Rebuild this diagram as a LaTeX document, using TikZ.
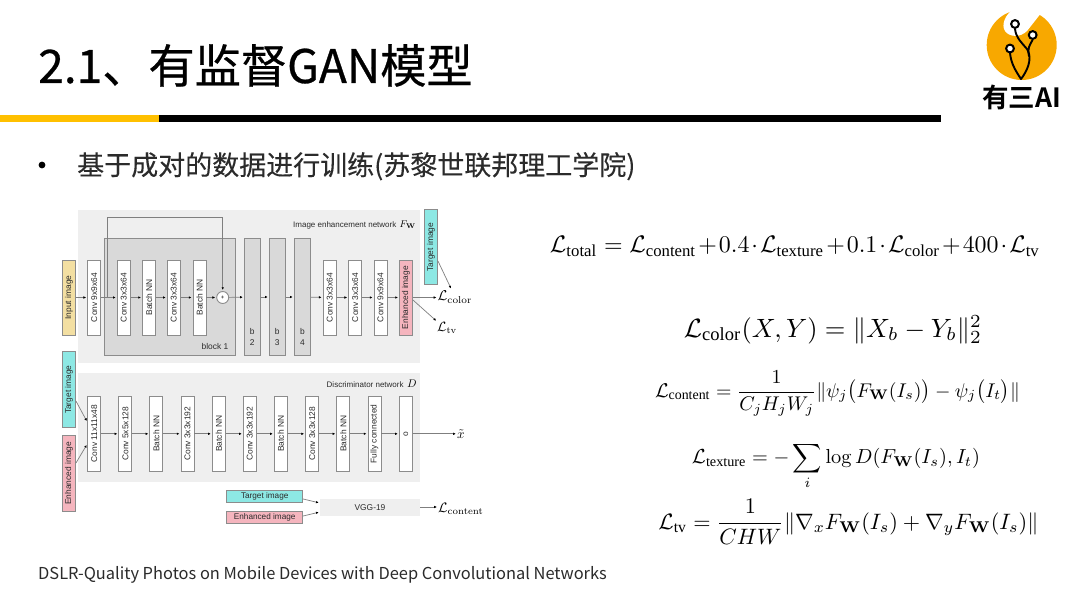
\documentclass[tikz,border=0pt]{standalone}
\usepackage[no-math]{fontspec}
\usepackage{amsmath}
\usepackage{graphicx}
\setmainfont{Liberation Sans}
\newfontfamily\cjk{Noto Sans CJK SC}
\newfontfamily\cjkt[FakeBold=0.6]{Noto Sans CJK SC}
\newfontfamily\cjks[FakeBold=0.2]{Noto Sans CJK SC}
\newfontfamily\cjkb{Noto Sans CJK SC Bold}
\newfontfamily\subser{Liberation Serif}
\newcommand{\st}[1]{\text{\subser #1}}
\usetikzlibrary{arrows.meta}
\definecolor{panelc}{HTML}{EFEFEF}
\definecolor{blockc}{HTML}{D9D9D9}
\definecolor{edgec}{HTML}{8C8C8C}
\definecolor{linec}{HTML}{7F7F7F}
\definecolor{textc}{HTML}{2B2B2B}
\definecolor{inputc}{HTML}{F3DFA2}
\definecolor{targetc}{HTML}{8DE8E4}
\definecolor{enhc}{HTML}{F5B5BE}
\definecolor{goldc}{HTML}{FFC000}
\definecolor{logoc}{HTML}{F8A800}
\newcommand{\vtext}[1]{\rotatebox{90}{\fontsize{8.4}{10}\selectfont\color{textc}#1}}
\tikzset{
 panel/.style={fill=panelc,draw=none,inner sep=0},
 netbox/.style={draw=edgec,line width=0.9pt,fill=white,minimum width=13pt,minimum height=75pt,inner sep=0},
 colbox/.style={draw=edgec,line width=0.9pt,minimum width=13pt,minimum height=75pt,inner sep=0},
 grayblock/.style={draw=edgec,line width=0.9pt,fill=blockc,inner sep=0},
 hbox/.style={draw=edgec,line width=0.9pt,minimum width=76pt,minimum height=12pt,inner sep=0,font=\fontsize{8.2}{10}\selectfont,text=textc},
 conn/.style={draw=linec,line width=0.7pt,-{Latex[length=2.6pt,width=2.6pt,black]},shorten >=1.2pt},
 small/.style={font=\fontsize{8.4}{10}\selectfont,text=textc,inner sep=0},
 nettitle/.style={font=\fontsize{8}{10}\selectfont,text=textc,inner sep=0},
 formula/.style={anchor=base,inner sep=0},
 ringm/.style={circle,draw=black,line width=2pt,fill=white,minimum size=7.8pt,inner sep=0},
 branch/.style={draw=black,line width=1.9pt,line cap=round}
}
\begin{document}
\begin{tikzpicture}[x=1pt,y=-1pt]
\useasboundingbox (0,0) rectangle (1080,607);
\fill[white] (0,0) rectangle (1080,607);

% title
\node[anchor=base west,inner sep=0,text=black] (title) at (38,83) {\cjkt\fontsize{46.2}{50}\selectfont 2.1、有监督GAN模型};
\fill[goldc] (0,115) rectangle (159,121.7);
\fill[black] (159,115) rectangle (941,121.7);

% bullet
\fill[black] (42,165) circle (3.4pt);
\node[anchor=base west,inner sep=0,text=textc] (sub) at (77,175) {\cjks\fontsize{27}{30}\selectfont 基于成对的数据进行训练(苏黎世联邦理工学院)};

% logo
\fill[logoc] (1021.7,45) circle (35pt);
\fill[white] (1013.3,9) .. controls (1005,15) and (1001,25) .. (1005,31)
  .. controls (1009,37) and (1020,38) .. (1027,31) -- (1040,14.5) -- (1032,5) -- cycle;
\draw[branch] (1015,29) .. controls (1016,38) and (1022,43) .. (1027,49)
  .. controls (1031,55) and (1031,66) .. (1021,79);
\draw[branch] (1032.5,40) .. controls (1030,45) and (1027,48) .. (1029,56);
\draw[branch] (1010,53) .. controls (1011,63) and (1015,70) .. (1021,79);
\node[ringm] (r1) at (1015,24) {};
\node[ringm] (r2) at (1032.7,35) {};
\node[ringm] (r3) at (1010,48.5) {};
\node[inner sep=0,text=black] (logot) at (1021.7,97) {\cjkb\fontsize{26.5}{28}\selectfont 有三AI};

% panels
\node[panel,minimum width=342pt,minimum height=153pt] (ptop) at (249,286.5) {};
\node[panel,minimum width=342pt,minimum height=108.4pt] (pbot) at (249,427.5) {};
\node[panel,minimum width=100pt,minimum height=16.7pt] (vgg) at (370,507.3) {\fontsize{8.4}{10}\selectfont\color{textc}VGG-19};

% gray blocks
\node[grayblock,minimum width=131pt,minimum height=117.4pt] (block) at (169.8,297) {};
\node[grayblock,minimum width=15.7pt,minimum height=117.4pt] (b2) at (252.2,297) {};
\node[grayblock,minimum width=16pt,minimum height=117.4pt] (b3) at (277.3,297) {};
\node[grayblock,minimum width=16.4pt,minimum height=117.4pt] (b4) at (302.5,297) {};
\node[small,anchor=center] (blockt) at (215,346.3) {block 1};
\node[small,align=center] (b2t) at (252.2,337) {b\\[1.5pt]2};
\node[small,align=center] (b3t) at (277.3,337) {b\\[1.5pt]3};
\node[small,align=center] (b4t) at (302.5,337) {b\\[1.5pt]4};

% generator boxes
\node[colbox,fill=inputc] (inp) at (69,297.5) {\vtext{Input image}};
\node[netbox] (g1) at (94.2,297.5) {\vtext{Conv 9x9x64}};
\node[netbox] (g2) at (123.8,297.5) {\vtext{Conv 3x3x64}};
\node[netbox] (g3) at (149,297.5) {\vtext{Batch NN}};
\node[netbox] (g4) at (173.8,297.5) {\vtext{Conv 3x3x64}};
\node[netbox] (g5) at (199.5,297.5) {\vtext{Batch NN}};
\node[circle,draw=edgec,line width=0.9pt,fill=white,minimum size=12pt,inner sep=0,font=\fontsize{6}{6}\selectfont] (plus) at (222.7,297.5) {+};
\node[netbox] (g6) at (329.7,297.5) {\vtext{Conv 3x3x64}};
\node[netbox] (g7) at (355.2,297.5) {\vtext{Conv 3x3x64}};
\node[netbox] (g8) at (380.5,297.5) {\vtext{Conv 9x9x64}};
\node[colbox,fill=enhc] (enh) at (406,297.5) {\vtext{Enhanced image}};
\node[colbox,fill=targetc] (tgt) at (431,247.2) {\vtext{Target image}};

\node[nettitle,anchor=base west] (gtitle) at (293,227) {Image enhancement network};
\node[formula,anchor=base west] (fw) at (399.5,227.5) {\resizebox{16pt}{!}{$F_{\mathbf{W}}$}};
\node[formula,anchor=base west] (lcolor) at (437.5,301) {\resizebox{34.5pt}{!}{$\mathcal{L}_{\mathrm{color}}$}};
\node[formula,anchor=base west] (ltv) at (437,331.5) {\resizebox{20pt}{!}{$\mathcal{L}_{\mathrm{tv}}$}};

% generator connectors
\coordinate (skipstart) at (107.3,297.5);
\coordinate (skiptop) at (107.3,217);
\draw[conn] (inp) -- (g1);
\draw[conn] (g1) -- (g2);
\draw[conn] (g2) -- (g3);
\draw[conn] (g3) -- (g4);
\draw[conn] (g4) -- (g5);
\draw[conn] (g5) -- (plus);
\draw[conn] (plus) -- (b2);
\draw[conn] (b2) -- (b3);
\draw[conn] (b3) -- (b4);
\draw[conn] (b4) -- (g6);
\draw[conn] (g6) -- (g7);
\draw[conn] (g7) -- (g8);
\draw[conn] (g8) -- (enh);
\draw[conn] (skipstart) -- (skiptop) -| (plus);
\draw[conn] (enh) -- (lcolor.west |- enh);
\draw[conn] (tgt.south east |- 0,261) -- (451.5,289.5);
\draw[conn] (enh.east |- 0,300) -- (ltv.north west |- 0,321.5);

% discriminator boxes
\node[colbox,fill=targetc,minimum height=76pt] (tgtb) at (69,389.7) {\vtext{Target image}};
\node[colbox,fill=enhc,minimum height=75.3pt] (enhb) at (69,473.3) {\vtext{Enhanced image}};
\node[netbox,minimum height=75.7pt] (d1) at (94.2,433.8) {\vtext{Conv 11x11x48}};
\node[netbox,minimum height=75.7pt] (d2) at (125.4,433.8) {\vtext{Conv 5x5x128}};
\node[netbox,minimum height=75.7pt] (d3) at (156.4,433.8) {\vtext{Batch NN}};
\node[netbox,minimum height=75.7pt] (d4) at (187.5,433.8) {\vtext{Conv 3x3x192}};
\node[netbox,minimum height=75.7pt] (d5) at (218.8,433.8) {\vtext{Batch NN}};
\node[netbox,minimum height=75.7pt] (d6) at (249.8,433.8) {\vtext{Conv 3x3x192}};
\node[netbox,minimum height=75.7pt] (d7) at (280.8,433.8) {\vtext{Batch NN}};
\node[netbox,minimum height=75.7pt] (d8) at (312.2,433.8) {\vtext{Conv 3x3x128}};
\node[netbox,minimum height=75.7pt] (d9) at (343.3,433.8) {\vtext{Batch NN}};
\node[netbox,minimum height=75.7pt] (d10) at (374.5,433.8) {\vtext{Fully connected}};
\node[netbox,minimum height=75.7pt] (d11) at (405.8,433.8) {\vtext{o}};
\node[nettitle,anchor=base west] (dtitle) at (326.5,387) {Discriminator network};
\node[formula,anchor=base west] (dd) at (407,387.5) {\resizebox{9.5pt}{!}{$D$}};
\node[formula,anchor=base west] (xt) at (457,438) {\resizebox{7.5pt}{!}{$\tilde{x}$}};

\draw[conn] (d1) -- (d2);
\draw[conn] (d2) -- (d3);
\draw[conn] (d3) -- (d4);
\draw[conn] (d4) -- (d5);
\draw[conn] (d5) -- (d6);
\draw[conn] (d6) -- (d7);
\draw[conn] (d7) -- (d8);
\draw[conn] (d8) -- (d9);
\draw[conn] (d9) -- (d10);
\draw[conn] (d10) -- (d11);
\draw[conn] (d11) -- (xt.west |- d11);
\draw[conn] (tgtb.east |- 0,401) -- (d1.west |- 0,422);
\draw[conn] (enhb.east |- 0,463) -- (d1.west |- 0,444);

% VGG inputs
\node[hbox,fill=targetc] (tgtc) at (264.7,496.7) {Target image};
\node[hbox,fill=enhc] (enhc2) at (264.7,517.8) {Enhanced image};
\node[formula,anchor=base west] (lcontent) at (438,512) {\resizebox{45.5pt}{!}{$\mathcal{L}_{\mathrm{content}}$}};
\draw[conn] (tgtc.east |- 0,499) -- (vgg.west |- 0,503);
\draw[conn] (enhc2.east |- 0,516) -- (vgg.west |- 0,512);
\draw[conn] (vgg.east |- 0,507) -- (lcontent.west |- 0,507);

% formulas
\node[formula] (f1) at (795,252.5) {\resizebox{490pt}{!}{\medmuskip=1.5mu$\mathcal{L}_{\st{total}}=\mathcal{L}_{\st{content}}+0.4\cdot\mathcal{L}_{\st{texture}}+0.1\cdot\mathcal{L}_{\st{color}}+400\cdot\mathcal{L}_{\st{tv}}$}};
\node[formula] (f2) at (833,337) {\resizebox{298pt}{!}{$\mathcal{L}_{\st{color}}(X,Y)=\|X_b-Y_b\|_2^2$}};
\node[formula] (f3) at (837.5,397) {\resizebox{365pt}{!}{$\displaystyle\mathcal{L}_{\st{content}}=\frac{1}{C_jH_jW_j}\|\psi_j\bigl(F_{\mathbf{W}}(I_s)\bigr)-\psi_j\bigl(I_t\bigr)\|$}};
\node[formula] (f4) at (836,463.5) {\resizebox{288pt}{!}{$\displaystyle\mathcal{L}_{\st{texture}}=-\sum_i\log D(F_{\mathbf{W}}(I_s),I_t)$}};
\node[formula] (f5) at (848.5,529) {\resizebox{380pt}{!}{$\displaystyle\mathcal{L}_{\st{tv}}=\frac{1}{CHW}\|\nabla_xF_{\mathbf{W}}(I_s)+\nabla_yF_{\mathbf{W}}(I_s)\|$}};

% caption
\node[anchor=base west,inner sep=0,text=textc] (cap) at (38,579) {\cjk\fontsize{16.42}{18}\selectfont DSLR-Quality Photos on Mobile Devices with Deep Convolutional Networks};
\end{tikzpicture}
\end{document}
